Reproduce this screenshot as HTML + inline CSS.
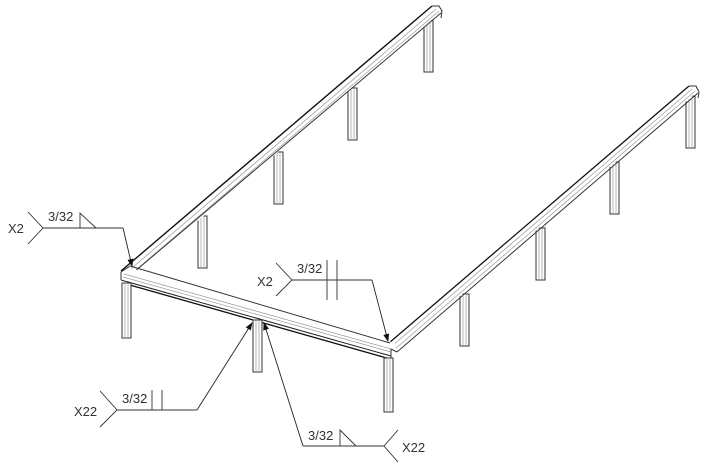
<!DOCTYPE html>
<html><head><style>html,body{margin:0;padding:0;background:#fff}svg{display:block}text{font-family:"Liberation Sans",sans-serif;font-size:13px;fill:#333}</style></head>
<body>
<svg width="708" height="466" viewBox="0 0 708 466" xmlns="http://www.w3.org/2000/svg">
<defs>
<g id="post"><rect x="0" y="0" width="9" height="52" fill="#fff" stroke="#333" stroke-width="1"/><line x1="3" y1="0" x2="3" y2="52" stroke="#999" stroke-width="0.7"/><line x1="6" y1="0" x2="6" y2="52" stroke="#999" stroke-width="0.7"/></g>
<marker id="ah" markerWidth="8" markerHeight="8" refX="7" refY="4" orient="auto" markerUnits="userSpaceOnUse"><path d="M0,1 L8,4 L0,7 Z" fill="#111"/></marker>
</defs>
<use href="#post" x="198" y="216"/>
<use href="#post" x="274" y="152"/>
<use href="#post" x="348" y="88"/>
<use href="#post" x="424" y="20"/>
<use href="#post" x="460" y="294"/>
<use href="#post" x="536" y="228"/>
<use href="#post" x="610" y="162"/>
<use href="#post" x="686" y="96"/>
<!-- left beam -->
<polygon points="121,272 432,7 441,12 130,279" fill="#fff" stroke="none"/>
<line x1="121" y1="271" x2="432" y2="6" stroke="#111" stroke-width="1.4"/>
<line x1="126" y1="273" x2="436" y2="9" stroke="#999" stroke-width="0.7"/>
<line x1="130" y1="275" x2="439" y2="11" stroke="#999" stroke-width="0.7"/>
<line x1="134" y1="272" x2="441" y2="13" stroke="#333" stroke-width="1"/>
<path d="M432,6 L439,6 L442,11 L441,18" fill="none" stroke="#333" stroke-width="1"/>
<!-- right beam -->
<polygon points="389,343 690,86 698,91 395,352" fill="#fff"/>
<line x1="389" y1="343" x2="689" y2="86" stroke="#111" stroke-width="1.3"/>
<line x1="392" y1="346" x2="692" y2="89" stroke="#999" stroke-width="0.7"/>
<line x1="395" y1="349" x2="695" y2="91" stroke="#999" stroke-width="0.7"/>
<line x1="397" y1="352" x2="698" y2="93" stroke="#333" stroke-width="1"/>
<path d="M689,86 L696,86 L699,92 L698,98" fill="none" stroke="#333" stroke-width="1"/>
<!-- front beam -->
<polygon points="121,272 130,268 395,343 397,357 392,358 122,282" fill="#fff"/>
<line x1="121" y1="272" x2="130" y2="266" stroke="#333" stroke-width="1"/>
<line x1="130" y1="266" x2="390" y2="343" stroke="#333" stroke-width="1"/>
<line x1="124" y1="274" x2="391" y2="349" stroke="#999" stroke-width="0.7"/>
<line x1="123" y1="277" x2="391" y2="352" stroke="#999" stroke-width="0.7"/>
<line x1="121" y1="272" x2="121" y2="280" stroke="#333" stroke-width="1"/>
<line x1="121" y1="280" x2="391" y2="356" stroke="#222" stroke-width="1"/>
<line x1="123" y1="283" x2="390" y2="359" stroke="#111" stroke-width="1.3"/>
<line x1="391" y1="349" x2="397" y2="352" stroke="#333" stroke-width="1"/>
<line x1="391" y1="349" x2="391" y2="358" stroke="#333" stroke-width="1"/>
<rect x="122" y="283" width="9" height="55" fill="#fff" stroke="#333" stroke-width="1"/><line x1="125" y1="283" x2="125" y2="338" stroke="#999" stroke-width="0.7"/><line x1="128" y1="283" x2="128" y2="338" stroke="#999" stroke-width="0.7"/>
<rect x="253" y="320" width="9" height="52" fill="#fff" stroke="#333" stroke-width="1"/><line x1="256" y1="320" x2="256" y2="372" stroke="#999" stroke-width="0.7"/><line x1="259" y1="320" x2="259" y2="372" stroke="#999" stroke-width="0.7"/>
<rect x="384" y="358" width="9" height="54" fill="#fff" stroke="#333" stroke-width="1"/><line x1="387" y1="358" x2="387" y2="412" stroke="#999" stroke-width="0.7"/><line x1="390" y1="358" x2="390" y2="412" stroke="#999" stroke-width="0.7"/>
<g fill="none" stroke="#333" stroke-width="0.9">
<path d="M28,212 L43,228 L28,244"/>
<path d="M43,228 L123,228"/>
<path d="M123,228 L132,266" stroke="#222" marker-end="url(#ah)"/>
<path d="M80,228 L80,213 L96,228"/>
<path d="M276,263 L292,280 L276,296"/>
<path d="M292,280 L372,280"/>
<path d="M372,280 L388,341" stroke="#222" marker-end="url(#ah)"/>
<path d="M327,260 L327,300 M337,260 L337,300"/>
<path d="M100,391 L117,410 L100,427"/>
<path d="M117,410 L197,410"/>
<path d="M197,410 L252,323" stroke="#222" marker-end="url(#ah)"/>
<path d="M152,390 L152,410 M162,390 L162,410"/>
<path d="M398,430 L384,446 L398,462"/>
<path d="M303,446 L384,446"/>
<path d="M303,446 L264,323" stroke="#222" marker-end="url(#ah)"/>
<path d="M340,446 L340,430 L356,446"/>
</g>
<text x="8" y="233">X2</text>
<text x="48" y="221">3/32</text>
<text x="257" y="286">X2</text>
<text x="297" y="273">3/32</text>
<text x="74" y="416">X22</text>
<text x="122" y="403">3/32</text>
<text x="308" y="440">3/32</text>
<text x="402" y="452">X22</text>
</svg>
</body></html>
